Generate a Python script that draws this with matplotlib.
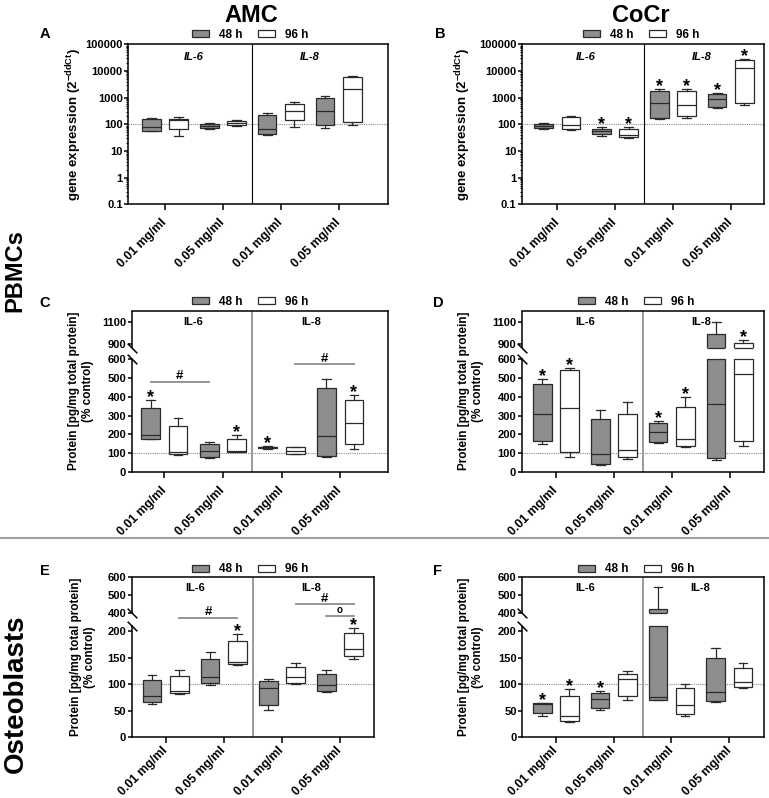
import numpy as np
import matplotlib
matplotlib.use("Agg")
import matplotlib.pyplot as plt
import matplotlib.transforms as mtransforms
from matplotlib.patches import Patch
from matplotlib.lines import Line2D
from matplotlib.ticker import LogLocator, NullFormatter

plt.rcParams["font.family"] = ["Liberation Sans", "DejaVu Sans"]
plt.rcParams["font.weight"] = "bold"
plt.rcParams["mathtext.fontset"] = "custom"
plt.rcParams["mathtext.rm"] = "Liberation Sans:bold"
plt.rcParams["mathtext.bf"] = "Liberation Sans:bold"
plt.rcParams["mathtext.default"] = "rm"

# ---------- Data ----------
doses = ["0.01 mg/ml", "0.05 mg/ml", "0.01 mg/ml", "0.05 mg/ml"]
genes = ["IL-6", "IL-8"]
times = ["48 h", "96 h"]

# box stats per dose group: [whisker low, Q1, median, Q3, whisker high]
A_48 = [[55, 57, 79, 154, 172], [68, 75, 88, 105, 115], [39, 44, 66, 217, 270], [70, 91, 305, 970, 1180]]
A_96 = [[36, 65, 150, 162, 183], [90, 96, 110, 133, 141], [79, 141, 320, 560, 670], [96, 118, 2150, 5900, 6500]]
B_48 = [[66, 71, 87, 102, 115], [36, 43, 56, 68, 77], [165, 172, 640, 1740, 2050], [400, 460, 890, 1320, 1530]]
B_96 = [[60, 65, 95, 185, 210], [30, 32, 40, 69, 79], [178, 200, 520, 1740, 2050], [540, 630, 12600, 26000, 28000]]
C_48 = [[175, 177, 195, 343, 385], [75, 79, 110, 150, 157], [121, 125, 130, 134, 139], [80, 83, 190, 445, 495]]
C_96 = [[90, 93, 107, 246, 288], [103, 105, 110, 175, 195], [93, 94, 113, 131, 134], [123, 146, 260, 382, 410]]
D_48 = [[148, 166, 307, 468, 495], [36, 43, 95, 280, 330], [152, 157, 210, 262, 270], [62, 75, 362, 990, 1100]]
D_96 = [[80, 104, 340, 543, 555], [66, 80, 115, 307, 372], [130, 136, 175, 345, 397], [139, 164, 521, 906, 930]]
E_48 = [[63, 66, 77, 107, 117], [98, 103, 114, 148, 161], [51, 61, 92, 106, 110], [86, 88, 98, 119, 126]]
E_96 = [[81, 83, 88, 116, 126], [136, 137, 141, 181, 194], [100, 103, 113, 132, 139], [148, 153, 167, 196, 205]]
F_48 = [[41, 45, 62, 64, 65], [51, 56, 73, 84, 87], [70, 71, 76, 425, 545], [67, 68, 86, 150, 168]]
F_96 = [[28, 30, 41, 78, 90], [70, 78, 110, 120, 124], [41, 44, 61, 93, 100], [93, 95, 105, 131, 139]]

# asterisks (vs. control), one flag per dose group
A_sig48, A_sig96 = [0, 0, 0, 0], [0, 0, 0, 0]
B_sig48, B_sig96 = [0, 1, 1, 1], [0, 1, 1, 1]
C_sig48, C_sig96 = [1, 0, 1, 0], [0, 1, 0, 1]
D_sig48, D_sig96 = [1, 0, 1, 0], [1, 0, 1, 1]
E_sig48, E_sig96 = [0, 0, 0, 0], [0, 1, 0, 1]
F_sig48, F_sig96 = [1, 1, 0, 0], [1, 0, 0, 0]

# comparison bars: (dose, time) -> (dose, time), height, symbol
C_bars = [((0, 0), (1, 0), 482, "#"), ((2, 1), (3, 1), 575, "#")]
E_bars = [((0, 1), (1, 1), 330, "#"), ((2, 1), (3, 1), 450, "#"), ((3, 0), (3, 1), 360, "o")]

log_ticks = [0.1, 1, 10, 100, 1000, 10000, 100000]
CD_ticks = [0, 100, 200, 300, 400, 500, 600, 900, 1100]
EF_ticks = [0, 50, 100, 150, 200, 400, 500, 600]

# broken axis: data breakpoints -> relative height
CD_break = ([0, 600, 865, 1200], [0, 112, 123.8, 160.65])
EF_break = ([0, 210, 400, 600], [0, 111.6, 124.3, 160.3])

gray = "#8e8e8e"
edge = "#2a2a2a"
OFF = 0.235
BW = 0.32

W, H = 769, 798
fig = plt.figure(figsize=(W / 100, H / 100), dpi=100)


def px_axes(left, top, right, bottom):
    return fig.add_axes([left / W, 1 - bottom / H, (right - left) / W, (bottom - top) / H])


def piecewise(xp, fp):
    xp = np.asarray(xp, float)
    fp = np.asarray(fp, float)
    s0 = (fp[1] - fp[0]) / (xp[1] - xp[0])
    s1 = (fp[-1] - fp[-2]) / (xp[-1] - xp[-2])

    def f(v):
        v = np.asarray(v, float)
        out = np.interp(v, xp, fp)
        out = np.where(v < xp[0], fp[0] + (v - xp[0]) * s0, out)
        out = np.where(v > xp[-1], fp[-1] + (v - xp[-1]) * s1, out)
        return out
    return f


def draw_panel(ax, d48, d96, s48, s96, kind, xlim, ylab_x, bars=(), italic=False, xpad=7):
    stats, pos, fcs = [], [], []
    for i in range(4):
        for d, off, fc in ((d48, -OFF, gray), (d96, OFF, "white")):
            lo, q1, med, q3, hi = d[i]
            stats.append(dict(whislo=lo, q1=q1, med=med, q3=q3, whishi=hi, fliers=[]))
            pos.append(i + off)
            fcs.append(fc)
    bp = ax.bxp(stats, positions=pos, widths=BW, capwidths=0.15, patch_artist=True,
                showfliers=False, manage_ticks=False,
                boxprops=dict(edgecolor=edge, linewidth=0.9),
                medianprops=dict(color=edge, linewidth=0.9),
                whiskerprops=dict(color=edge, linewidth=0.9),
                capprops=dict(color=edge, linewidth=0.9))
    for patch, fc in zip(bp["boxes"], fcs):
        patch.set_facecolor(fc)

    ax.set_xlim(*xlim)
    ax.axhline(100, color="#8a8a8a", ls=(0, (1, 1)), lw=0.8, zorder=1)
    ytr = ax.get_yaxis_transform()

    if kind == "log":
        ax.set_yscale("log")
        ax.set_ylim(0.1, 100000)
        ax.set_yticks(log_ticks)
        ax.set_yticklabels(["0.1", "1", "10", "100", "1000", "10000", "100000"])
        ax.yaxis.set_minor_locator(LogLocator(base=10, subs=np.arange(2, 10)))
        ax.yaxis.set_minor_formatter(NullFormatter())
        ax.axvline(1.5, color="black", lw=0.8, zorder=4)
        ax.set_ylabel(r"gene expression (2$^{-ddCt}$)", fontsize=9.5, fontweight="bold")
        il_y = 0.92
    else:
        brk, ticks = (CD_break, CD_ticks) if kind == "CD" else (EF_break, EF_ticks)
        ax.set_yscale("function", functions=(piecewise(*brk), piecewise(brk[1], brk[0])))
        ax.set_ylim(0, brk[0][-1])
        ax.set_yticks(ticks)
        ax.set_yticklabels([str(t) for t in ticks])
        g_lo, g_hi = brk[0][1], brk[0][2]
        ax.axhspan(g_lo, g_hi, color="white", lw=0, zorder=3)
        # edges where a box is cut by the break
        for p, s in zip(pos, stats):
            if s["q1"] < g_lo and s["q3"] > g_hi:
                ax.hlines([g_lo, g_hi], p - BW / 2, p + BW / 2, color=edge, lw=0.9, zorder=3.5)
        ax.spines["left"].set_bounds(0, g_lo)
        ax.plot([0, 0], [g_hi, brk[0][-1]], transform=ytr, color="black", lw=1.1,
                clip_on=False, zorder=6, solid_capstyle="butt")
        ax.plot([0, 0], [g_lo, g_hi], transform=ytr, ls="none", marker=[(-1, 1), (1, -1)],
                ms=7, mew=1.1, color="black", clip_on=False, zorder=7)
        ax.axvline(1.5, color="#9a9a9a", lw=1.4, zorder=4)
        ax.set_ylabel("Protein [pg/mg total protein]\n(% control)", fontsize=8.5, fontweight="bold")
        il_y = 0.93
    ax.yaxis.set_label_coords(ylab_x, 0.5)

    tr = mtransforms.blended_transform_factory(ax.transData, ax.transAxes)
    for k, g in enumerate(genes):
        ax.text(0.5 + 2 * k, il_y, g, transform=tr, ha="center", va="center", fontsize=8,
                fontweight="bold", style="italic" if italic else "normal", zorder=6)

    # asterisks
    for i in range(4):
        for sig, d, off in ((s48, d48, -OFF), (s96, d96, OFF)):
            if sig[i]:
                ax.annotate("*", xy=(i + off, d[i][4]), xytext=(0, -1.5), textcoords="offset points",
                            ha="center", va="baseline", fontsize=13, fontweight="bold", zorder=6)

    # comparison bars
    for (a, ta), (b, tb), y, sym in bars:
        x0 = a + (OFF if ta else -OFF)
        x1 = b + (OFF if tb else -OFF)
        ax.plot([x0, x1], [y, y], color="#8c8c8c", lw=1.3, zorder=5)
        ax.annotate(sym, xy=((x0 + x1) / 2, y), xytext=(0, 1.8), textcoords="offset points",
                    ha="center", va="baseline", fontsize=9.5 if sym == "#" else 7,
                    fontweight="bold", zorder=6)

    ax.set_xticks(range(4))
    ax.set_xticklabels(doses, rotation=45, ha="right", va="center", rotation_mode="anchor",
                       fontsize=8.8, fontweight="bold")
    ax.tick_params(axis="x", length=4, width=1.1, pad=xpad)
    ax.tick_params(axis="y", which="major", length=3, width=1.1, pad=1, labelsize=8)
    ax.tick_params(axis="y", which="minor", length=1.8, width=0.8)
    for lab in ax.get_yticklabels():
        lab.set_fontweight("bold")
    for sp in ax.spines.values():
        sp.set_linewidth(1.1)
        sp.set_zorder(5)


# ---------- Panels ----------
panels = [
    ("A", (128.3, 44.3, 387.7, 204.3), (-0.634, 3.846), A_48, A_96, A_sig48, A_sig96, "log", -0.171, (), True,
     (250.5, 34.7), (45, 38.3), 8),
    ("B", (521.7, 44.3, 764.3, 204.3), (-0.616, 3.58), B_48, B_96, B_sig48, B_sig96, "log", -0.2, (), True,
     (641.5, 34.7), (440, 38.3), 8),
    ("C", (131.7, 310.7, 388.3, 471.7), (-0.556, 3.82), C_48, C_96, C_sig48, C_sig96, "CD", -0.146, C_bars, False,
     (250.5, 302), (45, 306.7), 8),
    ("D", (521.7, 310.7, 764.0, 471.7), (-0.59, 3.59), D_48, D_96, D_sig48, D_sig96, "CD", -0.157, (), False,
     (636, 302), (438, 306.7), 8),
    ("E", (131.7, 577.0, 374.0, 737.3), (-0.585, 3.585), E_48, E_96, E_sig48, E_sig96, "EF", -0.149, E_bars, False,
     (250.5, 569.5), (45, 575), 4),
    ("F", (522.3, 577.0, 764.0, 737.3), (-0.58, 3.6), F_48, F_96, F_sig48, F_sig96, "EF", -0.159, (), False,
     (636, 569.5), (437, 575), 4),
]

for letter, box, xlim, d48, d96, s48, s96, kind, ylx, bars, ital, leg_xy, let_xy, xpad in panels:
    ax = px_axes(*box)
    draw_panel(ax, d48, d96, s48, s96, kind, xlim, ylx, bars, ital, xpad)
    handles = [Patch(facecolor=gray, edgecolor=edge, linewidth=0.9, label=times[0]),
               Patch(facecolor="white", edgecolor=edge, linewidth=0.9, label=times[1])]
    ax.legend(handles=handles, loc="center", bbox_to_anchor=(leg_xy[0] / W, 1 - leg_xy[1] / H),
              bbox_transform=fig.transFigure, ncol=2, frameon=False,
              prop=dict(size=8.5, weight="bold"), handlelength=1.45, handleheight=0.55,
              handletextpad=0.85, columnspacing=1.3, borderpad=0, borderaxespad=0)
    fig.text(let_xy[0] / W, 1 - let_xy[1] / H, letter, ha="center", va="baseline",
             fontsize=10.5, fontweight="bold")

# ---------- Titles ----------
fig.text(251.7 / W, 1 - 21.7 / H, "AMC", ha="center", va="baseline", fontsize=17, fontweight="bold")
fig.text(641 / W, 1 - 21.7 / H, "CoCr", ha="center", va="baseline", fontsize=17, fontweight="bold")
fig.text(15 / W, 1 - 271 / H, "PBMCs", ha="center", va="center", rotation=90, fontsize=17, fontweight="bold")
fig.text(16 / W, 1 - 694 / H, "Osteoblasts", ha="center", va="center", rotation=90, fontsize=20,
         fontweight="bold")
fig.add_artist(Line2D([0, 1], [1 - 538 / H, 1 - 538 / H], transform=fig.transFigure,
                      color="#a0a0a0", lw=1.5))

plt.savefig("out.png", dpi=100)
